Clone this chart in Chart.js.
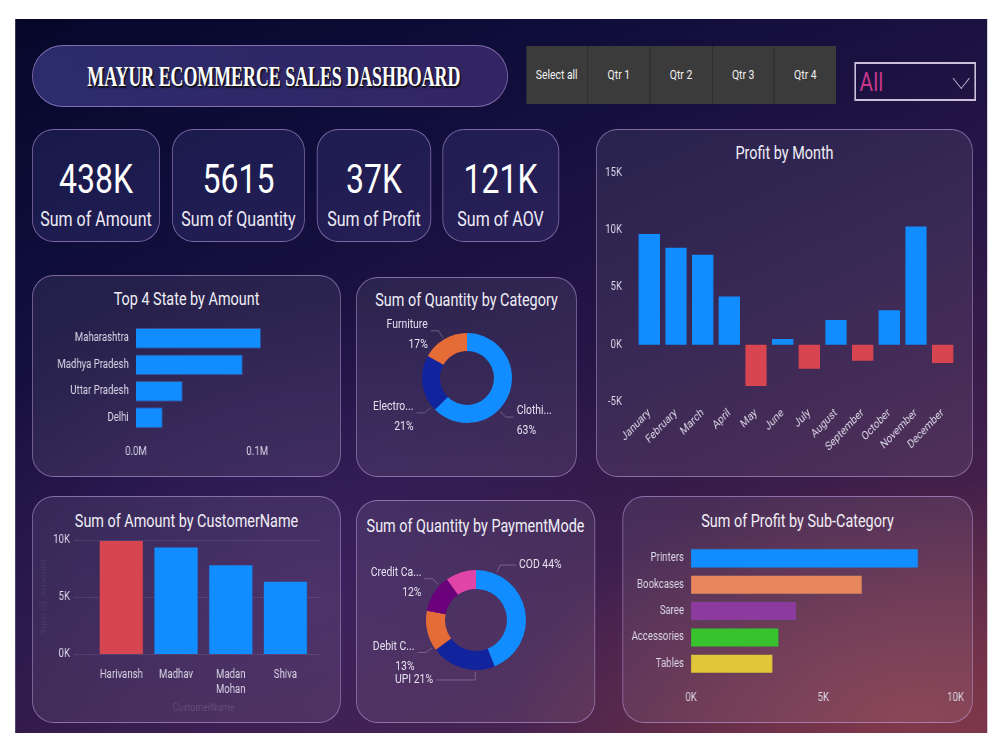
<!DOCTYPE html>
<html lang="en">
<head>
<meta charset="UTF-8">
<script src="https://cdn.jsdelivr.net/npm/chart.js@4.4.0/dist/chart.umd.min.js"></script>
<title>Mayur Ecommerce Sales Dashboard</title>
<style>
  body { margin:0; width:1000px; height:750px; background:#fff; overflow:hidden; position:relative;
         font-family:Roboto, sans-serif; color:#fff; }
  /* everything in #wrap is laid out 1.25x wide and squeezed back, which gives the narrow type */
  #wrap { position:absolute; left:0; top:0; width:1250px; height:750px; transform:scaleX(0.8); transform-origin:0 0; }
  #board { position:absolute;
    background:
      radial-gradient(ellipse 55% 45% at 92% 98%, rgba(150,65,75,0.65), transparent 75%),
      radial-gradient(ellipse 55% 55% at 30% 80%, rgba(70,40,110,0.55), transparent 75%),
      linear-gradient(160deg, #05072a 0%, #0f0d3a 22%, #241546 50%, #43204b 78%, #5e2a48 100%); }
  .card { position:absolute; box-sizing:border-box; border:1px solid rgba(200,165,235,0.55);
          border-radius:27px / 22px; background:rgba(255,255,255,0.08); }
  .kpi { background:rgba(120,120,220,0.14); }
  .ttl { position:absolute; left:0; right:0; text-align:center; font-size:18px; color:#f0eef6; white-space:nowrap; }
  .kpi .num { position:absolute; left:0; right:0; top:26px; text-align:center; font-size:40px; }
  .kpi .lab { position:absolute; left:0; right:0; top:77px; text-align:center; font-size:20px; color:#eeeaf5; white-space:nowrap; }
  canvas { position:absolute; }
  #title { border-radius:39px / 31px; background:linear-gradient(90deg, rgba(80,80,170,0.5), rgba(95,65,150,0.45)); }
  #title span { position:absolute; left:0; right:0; top:14px; text-align:center; white-space:nowrap;
     font-family:'Liberation Serif', serif; font-weight:bold; font-size:29px; transform:scaleX(0.77);
     text-shadow:1px 1px 0 #111, 2px 2px 2px rgba(0,0,0,0.7); }
  #slicer { position:absolute; display:flex; background:#3b3b3b; }
  #slicer div { flex:1; border-right:1px solid #2c2c2c; text-align:center; line-height:58px; font-size:13px; color:#f2f2f2; }
  #slicer div:last-child { border-right:none; }
  #drop { position:absolute; box-sizing:border-box; border:2px solid #cbbfdc; }
  #drop span { position:absolute; left:5px; top:3px; font-size:26px; color:#c8378a; }
  #drop i { position:absolute; right:9px; top:7px; width:14px; height:14px;
            border-right:1.5px solid #cbbfdc; border-bottom:1.5px solid #cbbfdc; transform:rotate(45deg); }
</style>
</head>
<body>
<!-- data-box = x,y,w,h in page pixels -->
<div id="wrap">
  <div id="board" data-box="15,19,972,714"></div>

  <div class="card" id="title" data-box="32,45,476,62"><span>MAYUR ECOMMERCE SALES DASHBOARD</span></div>
  <div id="slicer" data-box="526,46,310,58"><div>Select all</div><div>Qtr 1</div><div>Qtr 2</div><div>Qtr 3</div><div>Qtr 4</div></div>
  <div id="drop" data-box="854,62,122,39"><span>All</span><i></i></div>

  <div class="card kpi" data-box="32,129,128,113"><div class="num">438K</div><div class="lab">Sum of Amount</div></div>
  <div class="card kpi" data-box="172,129,133,113"><div class="num">5615</div><div class="lab">Sum of Quantity</div></div>
  <div class="card kpi" data-box="317,129,114,113"><div class="num">37K</div><div class="lab">Sum of Profit</div></div>
  <div class="card kpi" data-box="442,129,117,113"><div class="num">121K</div><div class="lab">Sum of AOV</div></div>

  <div class="card" data-box="596,129,377,348"><div class="ttl" style="top:12px">Profit by Month</div></div>
  <div class="card" data-box="32,275,309,202"><div class="ttl" style="top:12px">Top 4 State by Amount</div></div>
  <div class="card" data-box="356,277,221,200"><div class="ttl" style="top:11px">Sum of Quantity by Category</div></div>
  <div class="card" data-box="32,496,309,227"><div class="ttl" style="top:13px">Sum of Amount by CustomerName</div></div>
  <div class="card" data-box="356,500,239,223"><div class="ttl" style="top:14px">Sum of Quantity by PaymentMode</div></div>
  <div class="card" data-box="622,496,351,227"><div class="ttl" style="top:13px">Sum of Profit by Sub-Category</div></div>

  <canvas id="monthChart" data-box="600,148,360,314"></canvas>
  <canvas id="stateChart" data-box="40,309,253,150"></canvas>
  <canvas id="custChart" data-box="36,503,284,214"></canvas>
  <canvas id="subChart" data-box="628,529,347,176"></canvas>
</div>

<canvas id="catChart" width="214" height="156" style="left:360px;top:300px"></canvas>
<canvas id="payChart" width="236" height="150" style="left:358px;top:545px"></canvas>

<script>
const months = ['January','February','March','April','May','June','July','August','September','October','November','December'];
const monthProfit = [9650, 8450, 7850, 4200, -3600, 500, -2100, 2150, -1400, 3000, 10300, -1600];

const states = ['Maharashtra','Madhya Pradesh','Uttar Pradesh','Delhi'];
const stateAmount = [103000, 88000, 38500, 22000];

const categories = ['Clothing','Electronics','Furniture'];
const categoryTags = ['Clothi...','Electro...','Furniture'];
const categoryQty = [3516, 1154, 945];

const customers = ['Harivansh','Madhav','Madan Mohan','Shiva'];
const customerAmount = [9920, 9350, 7800, 6350];

const payModes = ['COD','UPI','Debit Card','Credit Card','EMI'];
const payTags = ['COD','UPI','Debit C...','Credit Ca...','EMI'];
const payQty = [2466, 1175, 736, 683, 555];

const subCats = ['Printers','Bookcases','Saree','Accessories','Tables'];
const subProfit = [8600, 6480, 4000, 3330, 3100];

const BLUE = '#118DFF', RED = '#D64550';
const S = 0.8;

document.querySelectorAll('#wrap [data-box]').forEach(el => {
  const [x, y, w, h] = el.dataset.box.split(',').map(Number);
  el.style.left = (x / S) + 'px';
  el.style.top = y + 'px';
  if (el.tagName === 'CANVAS') { el.width = Math.round(w / S); el.height = h; }
  else { el.style.width = (w / S) + 'px'; el.style.height = h + 'px'; }
});

Chart.defaults.font.family = 'Roboto, sans-serif';
Chart.defaults.font.size = 12;
Chart.defaults.color = '#dcd8e8';
Chart.defaults.animation = false;
Chart.defaults.responsive = false;
Chart.defaults.plugins.legend.display = false;
Chart.defaults.plugins.tooltip.enabled = false;

const fixW = w => s => { s.width = w; };
const fixH = h => s => { s.height = h; };
const noGrid = { display:false, drawTicks:false };
const noBorder = { display:false };
const kfmt = v => (v / 1000) + 'K';

// labels with leader lines outside the donut ring (text squeezed to match the narrow type)
const donutLabels = {
  id: 'donutLabels',
  afterDatasetsDraw(chart, args, o) {
    const ctx = chart.ctx;
    const vals = chart.data.datasets[0].data;
    const total = vals.reduce((a, b) => a + b, 0);
    chart.getDatasetMeta(0).data.forEach((arc, i) => {
      const pct = Math.round(vals[i] / total * 100);
      if (pct < o.minPct) return;
      const p = arc.getProps(['x','y','startAngle','endAngle','outerRadius'], true);
      const a = p.startAngle + (p.endAngle - p.startAngle) * o.anchors[i];
      const right = Math.cos(a) >= 0;
      const r = p.outerRadius;
      const sx = p.x + Math.cos(a) * (r + 2), sy = p.y + Math.sin(a) * (r + 2);
      const ex = p.x + Math.cos(a) * (r + 10), ey = p.y + Math.sin(a) * (r + 10);
      const lx = right ? Math.max(ex + 8, p.x + 0.8 * r) : Math.min(ex - 8, p.x - 0.8 * r);
      ctx.save();
      ctx.strokeStyle = 'rgba(200,195,215,0.35)';
      ctx.lineWidth = 1;
      ctx.beginPath(); ctx.moveTo(sx, sy); ctx.lineTo(ex, ey); ctx.lineTo(lx, ey); ctx.stroke();
      ctx.translate(lx + (right ? 3 : -3), ey);
      ctx.scale(S, 1);
      ctx.fillStyle = '#e4e0ee';
      ctx.font = '13px Roboto, sans-serif';
      ctx.textAlign = right ? 'left' : 'right';
      ctx.textBaseline = 'middle';
      const tag = o.tags[i];
      if (tag.length <= 4) {
        ctx.fillText(tag + ' ' + pct + '%', 0, 0);
      } else {
        ctx.fillText(tag, 0, -6);
        ctx.fillText(pct + '%', 0, 14);
      }
      ctx.restore();
    });
  }
};

// dotted value lines that run a little past the bars
const dottedGrid = {
  id: 'dottedGrid',
  beforeDatasetsDraw(chart, args, o) {
    const { ctx, chartArea, scales: { y } } = chart;
    ctx.save();
    ctx.strokeStyle = o.color;
    ctx.lineWidth = 1;
    ctx.setLineDash([1, 3]);
    y.ticks.forEach(t => {
      const py = Math.round(y.getPixelForValue(t.value)) + 0.5;
      ctx.beginPath();
      ctx.moveTo(chartArea.left - o.extend, py);
      ctx.lineTo(chartArea.right + o.extend, py);
      ctx.stroke();
    });
    ctx.restore();
  }
};

new Chart(document.getElementById('monthChart'), {
  type: 'bar',
  data: { labels: months, datasets: [{ data: monthProfit,
    backgroundColor: monthProfit.map(v => v < 0 ? RED : BLUE), categoryPercentage: 1, barPercentage: 0.8 }] },
  options: {
    layout: { padding: { right: 5 } },
    scales: {
      x: { grid: noGrid, border: noBorder, afterFit: fixH(60),
           ticks: { minRotation: 40, maxRotation: 40, autoSkip: false, padding: 4 } },
      y: { min: -5000, max: 15000, grid: noGrid, border: noBorder, afterFit: fixW(45),
           ticks: { stepSize: 5000, padding: 17.5, callback: kfmt } }
    }
  }
});

new Chart(document.getElementById('stateChart'), {
  type: 'bar',
  data: { labels: states, datasets: [{ data: stateAmount, backgroundColor: BLUE,
    borderColor: 'rgba(60,90,160,0.8)', borderWidth: 1, categoryPercentage: 1, barPercentage: 0.79 }] },
  options: {
    indexAxis: 'y',
    scales: {
      x: { min: 0, max: 120000, grid: noGrid, border: noBorder, afterFit: fixH(28),
           ticks: { stepSize: 20000, autoSkip: false, minRotation: 0, maxRotation: 0, padding: 14,
                    callback: v => v % 100000 === 0 ? (v / 1e6).toFixed(1) + 'M' : '' } },
      y: { grid: noGrid, border: noBorder, afterFit: fixW(120), ticks: { padding: 9 } }
    }
  }
});

new Chart(document.getElementById('catChart'), {
  type: 'doughnut',
  data: { labels: categories, datasets: [{ data: categoryQty,
    backgroundColor: [BLUE, '#12239E', '#E66C37'], borderWidth: 0 }] },
  options: {
    radius: 45, cutout: '60%',
    plugins: { donutLabels: { tags: categoryTags, anchors: [0.6, 0.07, 0.49], minPct: 11 } }
  },
  plugins: [donutLabels]
});

new Chart(document.getElementById('custChart'), {
  type: 'bar',
  data: { labels: customers, datasets: [{ data: customerAmount,
    backgroundColor: customerAmount.map(v => v === Math.max(...customerAmount) ? RED : BLUE),
    categoryPercentage: 1, barPercentage: 0.79 }] },
  options: {
    layout: { padding: { right: 9 } },
    plugins: { dottedGrid: { color: 'rgba(190,185,210,0.55)', extend: 24 } },
    scales: {
      x: { grid: noGrid, border: noBorder, afterFit: fixH(63),
           title: { display: true, text: 'CustomerName', color: 'rgba(200,195,220,0.2)', font: { size: 11 }, padding: 2 },
           ticks: { padding: 14, maxRotation: 0, autoSkip: false,
                    callback(v) { const l = this.getLabelForValue(v); return l.includes(' ') ? l.split(' ') : l; } } },
      y: { min: 0, max: 10000, grid: noGrid, border: noBorder, afterFit: fixW(72.5),
           title: { display: true, text: 'Sum of Amount', color: 'rgba(200,195,220,0.1)', font: { size: 11 } },
           ticks: { stepSize: 5000, padding: 30, callback: kfmt } }
    }
  },
  plugins: [dottedGrid]
});

new Chart(document.getElementById('payChart'), {
  type: 'doughnut',
  data: { labels: payModes, datasets: [{ data: payQty,
    backgroundColor: [BLUE, '#12239E', '#E66C37', '#6B007B', '#E044A7'], borderWidth: 0 }] },
  options: {
    radius: 50, cutout: '62%',
    plugins: { donutLabels: { tags: payTags, anchors: [0.15, 0.3, 0.08, 0.75, 0.5], minPct: 11 } }
  },
  plugins: [donutLabels]
});

new Chart(document.getElementById('subChart'), {
  type: 'bar',
  data: { labels: subCats, datasets: [{ data: subProfit,
    backgroundColor: [BLUE, '#E8875E', '#8C3A9E', '#38C22D', '#E2C63A'],
    borderColor: 'rgba(90,70,90,0.8)', borderWidth: 1, categoryPercentage: 1, barPercentage: 0.76 }] },
  options: {
    indexAxis: 'y',
    scales: {
      x: { min: 0, max: 10000, grid: noGrid, border: noBorder, afterFit: fixH(28),
           ticks: { stepSize: 5000, padding: 14, callback: kfmt } },
      y: { grid: noGrid, border: noBorder, afterFit: fixW(79), ticks: { padding: 9 } }
    }
  }
});
</script>
</body>
</html>
